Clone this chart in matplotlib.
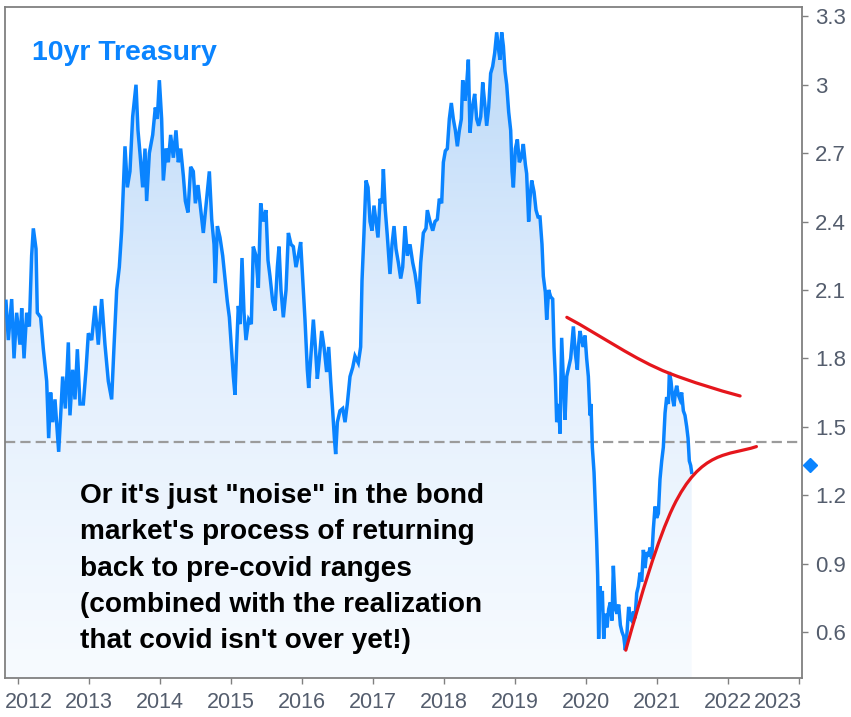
import numpy as np
import matplotlib
matplotlib.use("Agg")
import matplotlib.pyplot as plt
from matplotlib.path import Path
from matplotlib.patches import PathPatch
from matplotlib.colors import LinearSegmentedColormap
import matplotlib.transforms as mtransforms

# ---------------- data ----------------
dates = [
    2011.831, 2011.864, 2011.911, 2011.944, 2011.981, 2012.028, 2012.052, 2012.085, 2012.122, 2012.160,
    2012.192, 2012.216, 2012.254, 2012.272, 2012.319, 2012.357, 2012.404, 2012.432, 2012.460, 2012.488,
    2012.521, 2012.554, 2012.573, 2012.601, 2012.629, 2012.667, 2012.709, 2012.732, 2012.770, 2012.803,
    2012.836, 2012.873, 2012.920, 2012.958, 2012.991, 2013.038, 2013.085, 2013.131, 2013.178, 2013.225,
    2013.272, 2013.319, 2013.352, 2013.390, 2013.427, 2013.460, 2013.484, 2013.507, 2013.540, 2013.577,
    2013.615, 2013.662, 2013.690, 2013.718, 2013.756, 2013.789, 2013.812, 2013.850, 2013.897, 2013.934,
    2013.962, 2013.991, 2014.023, 2014.047, 2014.085, 2014.117, 2014.150, 2014.188, 2014.225, 2014.258,
    2014.291, 2014.329, 2014.357, 2014.394, 2014.432, 2014.469, 2014.498, 2014.535,
    2014.610, 2014.657, 2014.695, 2014.728, 2014.761, 2014.779, 2014.808, 2014.845, 2014.883, 2014.915,
    2014.948, 2014.977, 2015.005, 2015.033, 2015.056, 2015.080, 2015.103, 2015.127, 2015.155, 2015.183,
    2015.211, 2015.249, 2015.286, 2015.314, 2015.352, 2015.385, 2015.418, 2015.455, 2015.493, 2015.521,
    2015.549, 2015.587, 2015.620, 2015.653, 2015.676, 2015.704, 2015.737, 2015.775, 2015.808, 2015.845,
    2015.878, 2015.915, 2015.948, 2015.981, 2016.009, 2016.042, 2016.075, 2016.094, 2016.122, 2016.160,
    2016.188, 2016.216, 2016.244, 2016.277, 2016.310, 2016.347, 2016.376, 2016.404, 2016.432, 2016.456,
    2016.474, 2016.498, 2016.535, 2016.573, 2016.606, 2016.638, 2016.676, 2016.714, 2016.746, 2016.793,
    2016.826, 2016.845, 2016.873, 2016.901, 2016.930, 2016.958, 2016.986, 2017.014, 2017.042, 2017.070,
    2017.099, 2017.127, 2017.146, 2017.173, 2017.201,
    2017.239, 2017.268, 2017.296, 2017.324, 2017.357, 2017.390, 2017.418, 2017.451, 2017.484, 2017.521,
    2017.559, 2017.592, 2017.624, 2017.643, 2017.672, 2017.709, 2017.746, 2017.765, 2017.803, 2017.841,
    2017.873, 2017.906, 2017.934, 2017.967, 2017.991, 2018.019, 2018.047, 2018.075, 2018.103, 2018.131,
    2018.160, 2018.188, 2018.216, 2018.244, 2018.263, 2018.296, 2018.319, 2018.343, 2018.366, 2018.399,
    2018.432, 2018.460, 2018.488, 2018.517, 2018.545, 2018.573, 2018.601, 2018.629, 2018.657, 2018.685,
    2018.714, 2018.742, 2018.770, 2018.789, 2018.812, 2018.836, 2018.859, 2018.883, 2018.911, 2018.939,
    2018.958, 2018.977, 2019.005, 2019.033, 2019.061, 2019.089, 2019.117, 2019.146, 2019.164, 2019.192,
    2019.211, 2019.235, 2019.268, 2019.296, 2019.324, 2019.352, 2019.380, 2019.399, 2019.427, 2019.446,
    2019.474, 2019.502, 2019.531, 2019.549, 2019.568, 2019.587, 2019.615, 2019.634, 2019.657, 2019.681,
    2019.704, 2019.728, 2019.756, 2019.784, 2019.822, 2019.850, 2019.878,
    2019.892, 2019.915, 2019.939, 2019.962, 2019.986, 2020.009, 2020.033, 2020.056, 2020.070, 2020.089,
    2020.113, 2020.131, 2020.150, 2020.164, 2020.178, 2020.197, 2020.216, 2020.230, 2020.249, 2020.272,
    2020.296, 2020.319, 2020.343, 2020.366, 2020.385, 2020.413, 2020.437, 2020.460, 2020.484, 2020.507,
    2020.531, 2020.554, 2020.578, 2020.601, 2020.620, 2020.643, 2020.667, 2020.690, 2020.714, 2020.737,
    2020.761, 2020.784, 2020.808, 2020.831, 2020.855, 2020.878, 2020.901, 2020.925, 2020.948, 2020.972,
    2020.995, 2021.019, 2021.042, 2021.066, 2021.089, 2021.113, 2021.136, 2021.160, 2021.174, 2021.197,
    2021.221, 2021.239, 2021.258, 2021.277, 2021.300, 2021.324, 2021.347, 2021.371, 2021.394, 2021.418,
    2021.437, 2021.455, 2021.474, 2021.488,
]
yields = [
    2.05, 1.88, 2.06, 1.80, 2.00, 1.86, 2.02, 1.80, 2.00, 1.94,
    2.25, 2.37, 2.28, 2.00, 1.98, 1.84, 1.70, 1.45, 1.65, 1.52,
    1.62, 1.47, 1.39, 1.55, 1.72, 1.58, 1.87, 1.55, 1.75, 1.62,
    1.84, 1.60, 1.60, 1.75, 1.91, 1.88, 2.03, 1.86, 2.06, 1.86,
    1.70, 1.62, 1.85, 2.10, 2.20, 2.36, 2.55, 2.73, 2.55, 2.62,
    2.86, 3.00, 2.80, 2.70, 2.55, 2.72, 2.49, 2.70, 2.78, 2.90,
    2.85, 3.02, 2.85, 2.58, 2.72, 2.66, 2.78, 2.68, 2.80, 2.66,
    2.72, 2.60, 2.49, 2.44, 2.64, 2.62, 2.48, 2.56,
    2.35, 2.50, 2.62, 2.41, 2.30, 2.13, 2.38, 2.33, 2.25, 2.15,
    2.05, 1.98, 1.85, 1.72, 1.64, 1.85, 2.03, 1.95, 2.24, 2.00,
    1.88, 1.97, 1.95, 2.29, 2.25, 2.11, 2.48, 2.40, 2.45, 2.23,
    2.16, 2.05, 2.01, 2.20, 2.29, 2.10, 1.98, 2.10, 2.35, 2.30,
    2.29, 2.20, 2.25, 2.31, 2.15, 1.97, 1.75, 1.67, 1.80, 1.97,
    1.85, 1.71, 1.80, 1.92, 1.85, 1.74, 1.85, 1.70, 1.57, 1.45,
    1.38, 1.52, 1.57, 1.58, 1.52, 1.60, 1.72, 1.76, 1.81, 1.78,
    1.85, 2.14, 2.35, 2.58, 2.55, 2.40, 2.36, 2.47, 2.40, 2.33,
    2.50, 2.48, 2.63, 2.45, 2.34,
    2.17, 2.30, 2.38, 2.28, 2.22, 2.15, 2.20, 2.38, 2.25, 2.30,
    2.22, 2.17, 2.10, 2.04, 2.22, 2.35, 2.37, 2.45, 2.40, 2.36,
    2.40, 2.41, 2.50, 2.48, 2.66, 2.71, 2.72, 2.85, 2.92, 2.85,
    2.80, 2.73, 2.80, 2.85, 3.02, 2.93, 3.00, 3.11, 2.79, 2.90,
    2.96, 2.85, 2.82, 2.86, 3.01, 2.92, 2.82, 2.90, 3.05, 3.08,
    3.14, 3.23, 3.15, 3.11, 3.23, 3.17, 3.06, 3.00, 2.88, 2.80,
    2.62, 2.55, 2.72, 2.76, 2.66, 2.68, 2.74, 2.65, 2.61, 2.40,
    2.50, 2.58, 2.53, 2.45, 2.42, 2.42, 2.30, 2.16, 2.09, 1.97,
    2.10, 2.07, 2.06, 1.85, 1.72, 1.52, 1.60, 1.47, 1.89, 1.70,
    1.53, 1.72, 1.76, 1.80, 1.94, 1.82, 1.75,
    1.85, 1.92, 1.88, 1.85, 1.90, 1.80, 1.72, 1.55, 1.60, 1.41,
    1.30, 1.15, 1.00, 0.85, 0.57, 0.80, 0.70, 0.78, 0.57, 0.68,
    0.62, 0.70, 0.73, 0.65, 0.89, 0.70, 0.68, 0.72, 0.63, 0.60,
    0.58, 0.52, 0.60, 0.71, 0.66, 0.65, 0.69, 0.66, 0.77, 0.80,
    0.86, 0.82, 0.96, 0.88, 0.95, 0.93, 0.97, 0.92, 1.05, 1.15,
    1.10, 1.12, 1.27, 1.35, 1.41, 1.56, 1.63, 1.60, 1.74, 1.70,
    1.62, 1.59, 1.65, 1.68, 1.64, 1.62, 1.65, 1.57, 1.55, 1.50,
    1.45, 1.35, 1.33, 1.30,
]
year_ticks = list(range(2012, 2024))
year_labels = [str(y) for y in year_ticks]
y_ticks = [0.6, 0.9, 1.2, 1.5, 1.8, 2.1, 2.4, 2.7, 3.0, 3.3]
y_tick_labels = ["0.6", "0.9", "1.2", "1.5", "1.8", "2.1", "2.4", "2.7", "3", "3.3"]
reference_level = 1.433
last_value = 1.332
# annotation curves (bezier anchor / control points)
upper_curve = [(2019.73, 1.98), (2020.21, 1.90), (2020.69, 1.793), (2021.17, 1.735),
               (2021.50, 1.695), (2021.84, 1.663), (2022.17, 1.635)]
lower_curve = [(2020.56, 0.52), (2020.78, 0.765), (2021.01, 1.007), (2021.23, 1.15),
               (2021.62, 1.40), (2022.01, 1.373), (2022.40, 1.413)]
title_text = "10yr Treasury"
note_lines = [
    "Or it's just \"noise\" in the bond",
    "market's process of returning",
    "back to pre-covid ranges",
    "(combined with the realization",
    "that covid isn't over yet!)",
]

# ---------------- figure ----------------
W, H = 851, 717
fig = plt.figure(figsize=(W / 100, H / 100), dpi=100)
fig.patch.set_facecolor("white")
ax_l, ax_r, ax_t, ax_b = 5, 802, 7, 678
ax = fig.add_axes([ax_l / W, 1 - ax_b / H, (ax_r - ax_l) / W, (ax_b - ax_t) / H])

x0, x1 = 2011.817, 2023.042
y0, y1 = 0.398, 3.341

blue = "#0a84ff"
red = "#e5161c"
tick_font = ["Liberation Sans", "DejaVu Sans"]
bold_font = ["Liberation Sans", "DejaVu Sans"]

# gradient fill under the line
cmap = LinearSegmentedColormap.from_list("fillgrad", ["#f7fbff", "#e3effd", "#b9d8f8"])
grad = np.linspace(0, 1, 256).reshape(-1, 1)
im = ax.imshow(grad, extent=[x0, x1, y0, y1], origin="lower", aspect="auto",
               cmap=cmap, zorder=1, interpolation="bilinear")
poly = ax.fill_between(dates, yields, y0, facecolor="none", edgecolor="none")
im.set_clip_path(poly.get_paths()[0], transform=ax.transData)

# reference dashed line
ax.axhline(reference_level, color="#9b9b9b", lw=1.6, dashes=(4.6, 2.3), zorder=2)

# the yield line
ax.plot(dates, yields, color=blue, lw=2.5, zorder=3, solid_joinstyle="miter")

# red annotation curves
codes = [Path.MOVETO] + [Path.CURVE4] * 6
for pts in (upper_curve, lower_curve):
    ax.add_patch(PathPatch(Path(pts, codes), fill=False, edgecolor=red, lw=2.3,
                           zorder=4, capstyle="round"))

# last value marker on the axis
trans = mtransforms.blended_transform_factory(ax.transAxes, ax.transData)
ax.plot([1.010], [last_value], marker="D", ms=7.5, color=blue, mec=blue,
        transform=trans, clip_on=False, zorder=5)

ax.set_xlim(x0, x1)
ax.set_ylim(y0, y1)

# spines
for s in ax.spines.values():
    s.set_color("#808080")
    s.set_linewidth(1.3)

# ticks
ax.yaxis.tick_right()
ax.set_yticks(y_ticks)
ax.set_yticklabels(y_tick_labels)
ax.set_xticks(year_ticks)
ax.set_xticklabels(year_labels)
lab_color = "#545d6d"
ax.tick_params(axis="y", direction="out", length=4.3, width=1.0, color="#808080",
               pad=5, labelsize=16, labelcolor=lab_color)
ax.tick_params(axis="x", direction="out", length=4.3, width=1.0, color="#808080",
               pad=5.5, labelsize=15.5, labelcolor=lab_color)
for lab in ax.get_xticklabels() + ax.get_yticklabels():
    lab.set_family(tick_font)

xl = ax.get_xticklabels()
xl[0].set_transform(xl[0].get_transform() + mtransforms.ScaledTranslation(11 / 100, 0, fig.dpi_scale_trans))
xl[-1].set_transform(xl[-1].get_transform() + mtransforms.ScaledTranslation(-21 / 100, 0, fig.dpi_scale_trans))

# title
fig.text(32 / W, 1 - 60 / H, title_text, color=blue, fontsize=20.5, fontweight="bold",
         family=bold_font, ha="left", va="baseline")

# note text
baselines = [503, 539, 576, 612, 648]
for line, b in zip(note_lines, baselines):
    fig.text(80 / W, 1 - b / H, line, color="black", fontsize=20.2, fontweight="bold",
             family=bold_font, ha="left", va="baseline")

fig.savefig("out.png", dpi=100, facecolor="white")
